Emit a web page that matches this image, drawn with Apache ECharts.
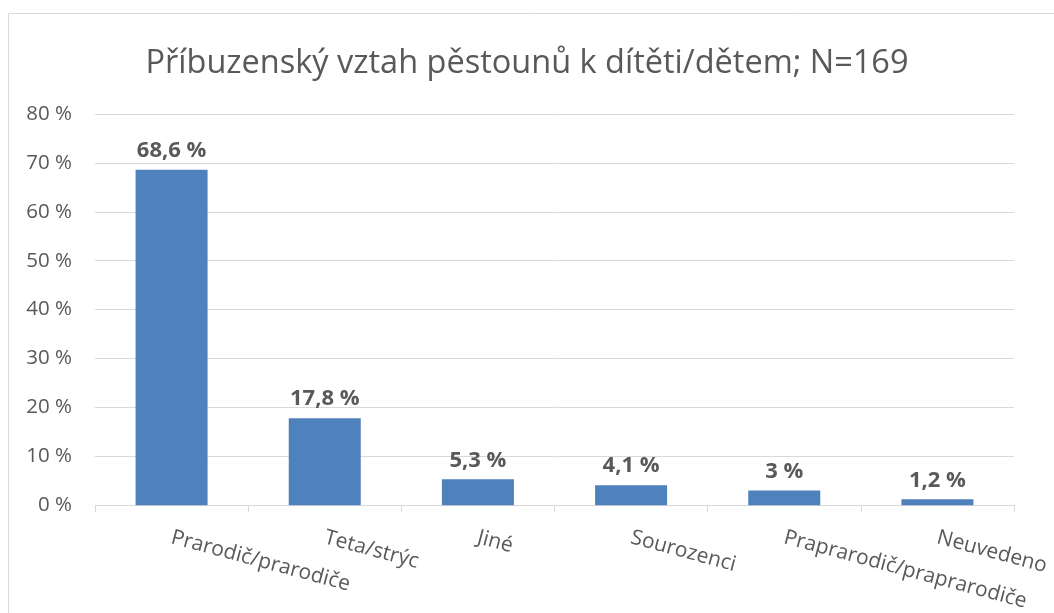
<!DOCTYPE html>
<html>
<head>
<meta charset="utf-8">
<script src="https://cdn.jsdelivr.net/npm/echarts@6/dist/echarts.min.js"></script>
<style>
  html, body { margin: 0; padding: 0; background: #fff; }
  #chart { width: 1054px; height: 613px; }
</style>
</head>
<body>
<div id="chart"></div>
<script>
// data
var categories = [
  "Prarodič/prarodiče",
  "Teta/strýc",
  "Jiné",
  "Sourozenci",
  "Praprarodič/praprarodiče",
  "Neuvedeno"
];
var shares = [68.6, 17.8, 5.3, 4.1, 3, 1.2];
var yTicks = [0, 10, 20, 30, 40, 50, 60, 70, 80];

var fontMain = "'Open Sans', 'Noto Sans', sans-serif";
var textGray = "#595959";

function czPercent (v) {
  return String(v).replace(".", ",") + " %";
}

var myChart = echarts.init(document.getElementById("chart"));
var option = {
  animation: false,
  backgroundColor: "#fff",
  graphic: [
    {
      type: "rect",
      shape: { x: 8.5, y: 13.5, width: 1100, height: 700 },
      style: { fill: "none", stroke: "#d9d9d9", lineWidth: 1 },
      silent: true
    }
  ],
  title: {
    text: "Příbuzenský vztah pěstounů k dítěti/dětem; N=169",
    left: "center",
    top: 42,
    textStyle: {
      fontFamily: fontMain,
      fontSize: 32.5,
      fontWeight: "normal",
      color: textGray
    }
  },
  grid: {
    left: 95,
    right: 40,
    top: 114,
    bottom: 106
  },
  xAxis: {
    type: "category",
    data: categories,
    axisLine: { lineStyle: { color: "#d9d9d9", width: 1 } },
    axisTick: { show: true, length: 7, lineStyle: { color: "#d9d9d9" } },
    axisLabel: {
      interval: 0,
      rotate: -15,
      margin: 32,
      fontFamily: fontMain,
      fontSize: 21,
      color: textGray
    }
  },
  yAxis: {
    type: "value",
    min: yTicks[0],
    max: yTicks[yTicks.length - 1],
    interval: 10,
    axisLine: { show: false },
    axisTick: { show: false },
    axisLabel: {
      margin: 23,
      fontFamily: fontMain,
      fontSize: 20.5,
      color: textGray,
      formatter: function (v) { return v + " %"; }
    },
    splitLine: { lineStyle: { color: "#d9d9d9", width: 1 } }
  },
  series: [
    {
      type: "bar",
      data: shares,
      barWidth: 72,
      itemStyle: { color: "#4F81BD" },
      label: {
        show: true,
        position: "top",
        distance: 8,
        fontFamily: fontMain,
        fontSize: 22,
        fontWeight: "bold",
        color: textGray,
        formatter: function (p) { return czPercent(p.value); }
      }
    }
  ]
};
myChart.setOption(option);
</script>
</body>
</html>
